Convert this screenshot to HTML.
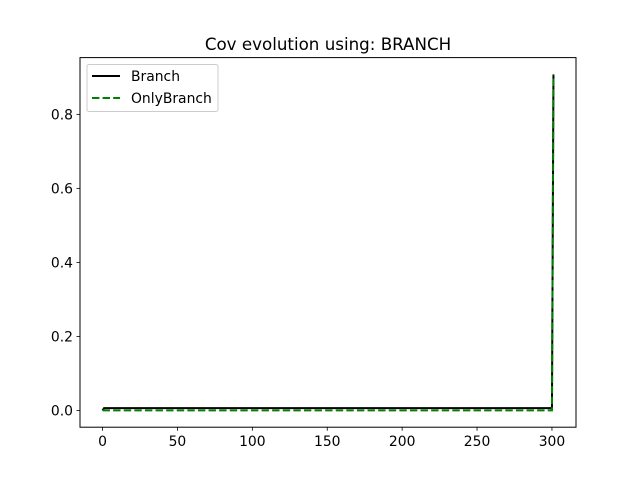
<!DOCTYPE html>
<html><head><meta charset="utf-8"><style>
body{margin:0;background:#fff;font-family:"Liberation Sans","DejaVu Sans",sans-serif;}
svg text{font-family:"DejaVu Sans","Liberation Sans",sans-serif;}
</style></head><body>
<svg id="c" width="640" height="480" xmlns="http://www.w3.org/2000/svg"></svg>
<script>
const xs = [0, 1, 300, 301];
const branch = [0, 0.006, 0.006, 0.908];
const onlyBranch = [0, 0, 0, 0.908];
const xTicks = [0, 50, 100, 150, 200, 250, 300];
const yTicks = [0.0, 0.2, 0.4, 0.6, 0.8];
const yTickLabels = ["0.0", "0.2", "0.4", "0.6", "0.8"];

const L=80,R=576,T=57.6,B=427.2;
const xmin=-15.05,xmax=316.05,ymin=-0.0454,ymax=0.9534;
const X=v=>L+(v-xmin)/(xmax-xmin)*(R-L);
const Y=v=>B-(v-ymin)/(ymax-ymin)*(B-T);
const svg=document.getElementById('c');
const NS='http://www.w3.org/2000/svg';
function mk(tag,attrs,parent){const e=document.createElementNS(NS,tag);for(const k in attrs)e.setAttribute(k,attrs[k]);(parent||svg).appendChild(e);return e;}

const title=mk('text',{x:328,y:50,'text-anchor':'middle','font-size':16.7});
title.textContent='Cov evolution using: BRANCH';



xTicks.forEach(t=>{
  const l=mk('line',{x1:X(t),x2:X(t),y1:B,y2:B+3.5,stroke:'#000','stroke-width':0.8});
  
  
  const tx=mk('text',{x:X(t),y:B+19,'text-anchor':'middle','font-size':13.9});
  tx.textContent=t;
  
  
});
yTicks.forEach((t,i)=>{
  const l=mk('line',{x1:L-3.5,x2:L,y1:Y(t),y2:Y(t),stroke:'#000','stroke-width':0.8});
  
  
  const tx=mk('text',{x:L-7,y:Y(t)+5,'text-anchor':'end','font-size':13.9});
  tx.textContent=yTickLabels[i];
  
  
});

const pts=a=>xs.map((x,i)=>X(x)+','+Y(a[i])).join(' ');
const l1=mk('polyline',{points:pts(branch),fill:'none',stroke:'#000','stroke-width':2});


const l2=mk('polyline',{points:pts(onlyBranch),fill:'none',stroke:'#008000','stroke-width':2,'stroke-dasharray':'7.4,3.2'});



const frame=mk('rect',{x:L,y:T,width:R-L,height:B-T,fill:'none',stroke:'#000','stroke-width':1});



const lg=mk('g',{});


mk('rect',{x:87,y:64.5,width:131,height:47,rx:2,fill:'#fff',stroke:'#ccc','stroke-width':1},lg);
const e1=mk('line',{x1:92,x2:120,y1:76,y2:76,stroke:'#000','stroke-width':2},lg);


const t1=mk('text',{x:131,y:81,'font-size':13.9},lg);t1.textContent='Branch';


const e2=mk('line',{x1:92,x2:120,y1:98,y2:98,stroke:'#008000','stroke-width':2,'stroke-dasharray':'7.4,3.2'},lg);


const t2=mk('text',{x:131,y:103,'font-size':13.9},lg);t2.textContent='OnlyBranch';


</script>
</body></html>
